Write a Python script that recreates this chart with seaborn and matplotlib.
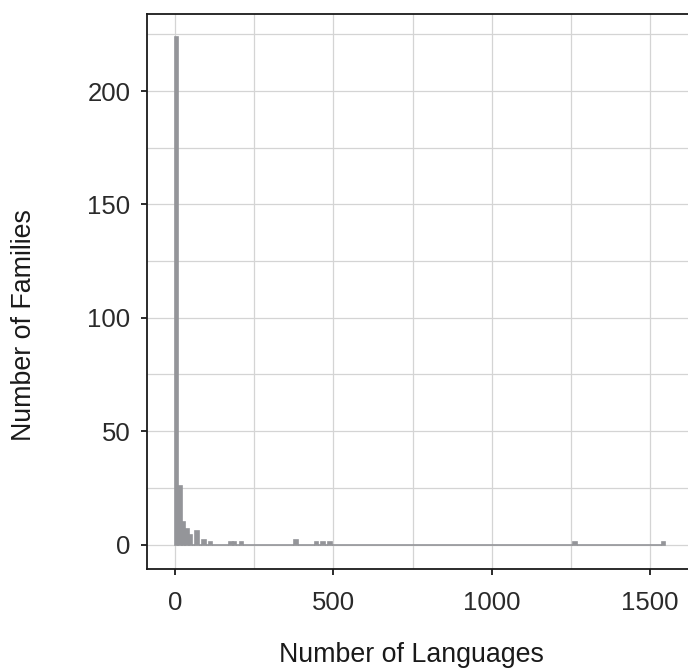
import numpy as np
import pandas as pd
import matplotlib.pyplot as plt
import seaborn as sns
from matplotlib.ticker import MultipleLocator

# histogram of language family sizes
bin_width = 10.75
n_bins = 144
bin_index = [0, 1, 2, 3, 4, 6, 8, 10, 16, 17, 19, 35, 41, 43, 45, 117, 143]
n_families = [224, 26, 10, 7, 4, 6, 2, 1, 1, 1, 1, 2, 1, 1, 1, 1, 1]

df = pd.DataFrame({'languages': (np.array(bin_index) + 0.5) * bin_width,
                   'families': n_families})

sns.set_theme(style="whitegrid")
plt.rcParams['font.family'] = ['Liberation Sans', 'DejaVu Sans']

fig = plt.figure(figsize=(6.88, 6.71), dpi=100)
ax = fig.add_axes([147 / 688, 102 / 671, (711 - 147) / 688, 555 / 671])

# bar outlines in the fill colour: empty bins draw the grey baseline
bar_col = '#949599'
sns.histplot(data=df, x='languages', weights='families', binwidth=bin_width,
             binrange=(0, n_bins * bin_width), color=bar_col,
             edgecolor=bar_col, linewidth=1.2, alpha=1, ax=ax)

ax.set(xlim=(-88.4, 1692), ylim=(-10.8, 234))
ax.xaxis.set_major_locator(MultipleLocator(500))
ax.xaxis.set_minor_locator(MultipleLocator(250))
ax.yaxis.set_major_locator(MultipleLocator(50))
ax.yaxis.set_minor_locator(MultipleLocator(25))
ax.set_axisbelow(True)
ax.grid(which='both', color='#d4d4d4', linewidth=0.9)

for side in ['left', 'bottom', 'top']:
    ax.spines[side].set_color('#1a1a1a')
    ax.spines[side].set_linewidth(1.3)
ax.spines['right'].set_visible(False)

ax.tick_params(which='minor', length=0)
ax.tick_params(which='major', length=4, width=1.3, color='#1a1a1a',
               labelsize=18.5, labelcolor='#2a2a2a')
ax.tick_params(axis='x', which='major', bottom=True, pad=12)
ax.tick_params(axis='y', which='major', left=True, pad=8)

ax.set_xlabel('Number of Languages', fontsize=19.3, color='#1a1a1a')
ax.set_ylabel('Number of Families', fontsize=19.3, color='#1a1a1a')
ax.xaxis.label.set_va('center')
ax.yaxis.label.set_va('center')
ax.xaxis.set_label_coords((411 - 147) / 564, (671 - 655 - 102) / 555)
ax.yaxis.set_label_coords((24 - 147) / 564, (671 - 325 - 102) / 555)

fig.savefig('out.png', dpi=100)
